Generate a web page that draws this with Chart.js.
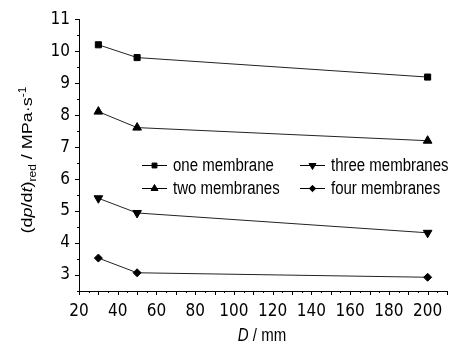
<!DOCTYPE html>
<html>
<head>
<meta charset="utf-8">
<script src="https://cdn.jsdelivr.net/npm/chart.js@4/dist/chart.umd.min.js"></script>
<style>
  html, body { margin: 0; padding: 0; background: #fff; }
  #wrap { width: 457px; height: 347px; }
</style>
</head>
<body>
<div id="wrap"><canvas id="chart"></canvas></div>
<script>
// Data
const diameters = [30, 50, 200];
const oneMembrane = [10.2, 9.8, 9.19];
const twoMembranes = [8.11, 7.61, 7.2];
const threeMembranes = [5.4, 4.94, 4.32];
const fourMembranes = [3.53, 3.07, 2.93];
const seriesNames = ['one membrane', 'two membranes', 'three membranes', 'four membranes'];
const xLabelValues = [20, 40, 60, 80, 100, 120, 140, 160, 180, 200];
const yLabelValues = [3, 4, 5, 6, 7, 8, 9, 10, 11];

const TICK_FONT = '"Liberation Sans Narrow", "DejaVu Sans Condensed", "Liberation Sans", Arial, sans-serif';
const TEXT_FONT = '"Liberation Sans", Arial, sans-serif';

function points(ys) {
    return diameters.map((d, i) => ({ x: d, y: ys[i] }));
}

const markers = [
    { style: 'rect', radius: 4.3, rotation: 0 },
    { style: 'triangle', radius: 5, rotation: 0 },
    { style: 'triangle', radius: 5, rotation: 180 },
    { style: 'rectRot', radius: 4, rotation: 0 }
];

function makeSet(name, ys, m) {
    return {
        label: name,
        data: points(ys),
        borderColor: '#222',
        borderWidth: 1,
        backgroundColor: '#000',
        pointStyle: m.style,
        pointRadius: m.radius,
        pointRotation: m.rotation,
        pointBackgroundColor: '#000',
        pointBorderColor: '#000',
        pointBorderWidth: 1,
        tension: 0
    };
}

// text with mixed italic / sub / superscript parts
function drawRich(ctx, parts) {
    let total = 0;
    parts.forEach(p => { ctx.font = p.font; p.w = ctx.measureText(p.text).width; total += p.w; });
    let x = -total / 2;
    ctx.textAlign = 'left';
    ctx.textBaseline = 'alphabetic';
    parts.forEach(p => {
        ctx.font = p.font;
        ctx.fillText(p.text, x, p.dy || 0);
        x += p.w;
    });
}

const axisDecor = {
    id: 'axisDecor',
    afterDraw(chart) {
        const ctx = chart.ctx;
        const xs = chart.scales.x, ys = chart.scales.y;
        ctx.save();
        ctx.strokeStyle = '#000';
        ctx.lineWidth = 1;
        // tick marks, outward
        ctx.beginPath();
        xs.ticks.forEach(t => {
            const px = Math.round(xs.getPixelForValue(t.value)) + 0.5;
            const len = t.value % 10 === 0 ? 4 : 2;
            ctx.moveTo(px, xs.top);
            ctx.lineTo(px, xs.top + len);
        });
        ys.ticks.forEach(t => {
            const py = Math.round(ys.getPixelForValue(t.value)) + 0.5;
            const len = Number.isInteger(t.value) ? 4 : 2;
            ctx.moveTo(ys.right, py);
            ctx.lineTo(ys.right - len, py);
        });
        ctx.stroke();

        ctx.fillStyle = '#000';
        const n = '15px ' + TEXT_FONT, it = 'italic 15px ' + TEXT_FONT, sm = '10px ' + TEXT_FONT;

        // y title
        ctx.save();
        ctx.translate(31.5, 160);
        ctx.rotate(-Math.PI / 2);
        ctx.scale(1.2, 1);
        drawRich(ctx, [
            { text: '(d', font: n }, { text: 'p', font: it }, { text: '/d', font: n },
            { text: 't', font: it }, { text: ')', font: n }, { text: 'red', font: sm, dy: 4 },
            { text: ' / MPa\u00b7s', font: n }, { text: '-1', font: sm, dy: -6 }
        ]);
        ctx.restore();

        // x title
        ctx.save();
        ctx.translate(262, 341);
        ctx.scale(1, 1.2);
        drawRich(ctx, [{ text: 'D', font: it }, { text: ' / mm', font: n }]);
        ctx.restore();

        // legend: line - marker - line
        const slots = [[142, 165], [142, 188], [300, 165], [300, 188]];
        chart.data.datasets.forEach((ds, i) => {
            const [lx, ly] = slots[i];
            ctx.beginPath();
            ctx.moveTo(lx, ly + 0.5);
            ctx.lineTo(lx + 25, ly + 0.5);
            ctx.strokeStyle = '#000';
            ctx.lineWidth = 1;
            ctx.stroke();
            const m = markers[i];
            Chart.helpers.drawPoint(ctx, {
                pointStyle: m.style, rotation: m.rotation,
                radius: m.radius * 0.8, borderWidth: 1
            }, lx + 12.5, ly + 0.5);
            ctx.save();
            ctx.translate(lx + 31, ly + 5.5);
            ctx.scale(1, 1.2);
            ctx.font = n;
            ctx.textAlign = 'left';
            ctx.textBaseline = 'alphabetic';
            ctx.fillText(ds.label, 0, 0);
            ctx.restore();
        });
        ctx.restore();
    }
};

new Chart(document.getElementById('chart').getContext('2d'), {
    type: 'line',
    data: {
        datasets: [
            makeSet(seriesNames[0], oneMembrane, markers[0]),
            makeSet(seriesNames[1], twoMembranes, markers[1]),
            makeSet(seriesNames[2], threeMembranes, markers[2]),
            makeSet(seriesNames[3], fourMembranes, markers[3])
        ]
    },
    options: {
        responsive: true,
        maintainAspectRatio: false,
        animation: false,
        layout: { padding: { left: 0, top: 13, right: 3, bottom: 0 } },
        plugins: {
            legend: { display: false },
            tooltip: { enabled: false }
        },
        scales: {
            x: {
                type: 'linear',
                min: 20,
                max: 210,
                afterFit(s) { s.height = 56; },
                border: { display: true, color: '#000', width: 1 },
                grid: { display: true, drawOnChartArea: false, drawTicks: false },
                ticks: {
                    stepSize: 5,
                    autoSkip: false,
                    maxRotation: 0,
                    padding: 10,
                    color: '#000',
                    font: { family: TICK_FONT, size: 17 },
                    callback: v => xLabelValues.includes(v) ? String(v) : ''
                }
            },
            y: {
                min: 2.5,
                max: 11,
                afterFit(s) { s.width = 79; },
                border: { display: true, color: '#000', width: 1 },
                grid: { display: true, drawOnChartArea: false, drawTicks: false },
                ticks: {
                    stepSize: 0.5,
                    autoSkip: false,
                    padding: 9,
                    color: '#000',
                    font: { family: TICK_FONT, size: 17 },
                    callback: v => yLabelValues.includes(v) ? String(v) : ''
                }
            }
        }
    },
    plugins: [axisDecor]
});
</script>
</body>
</html>
